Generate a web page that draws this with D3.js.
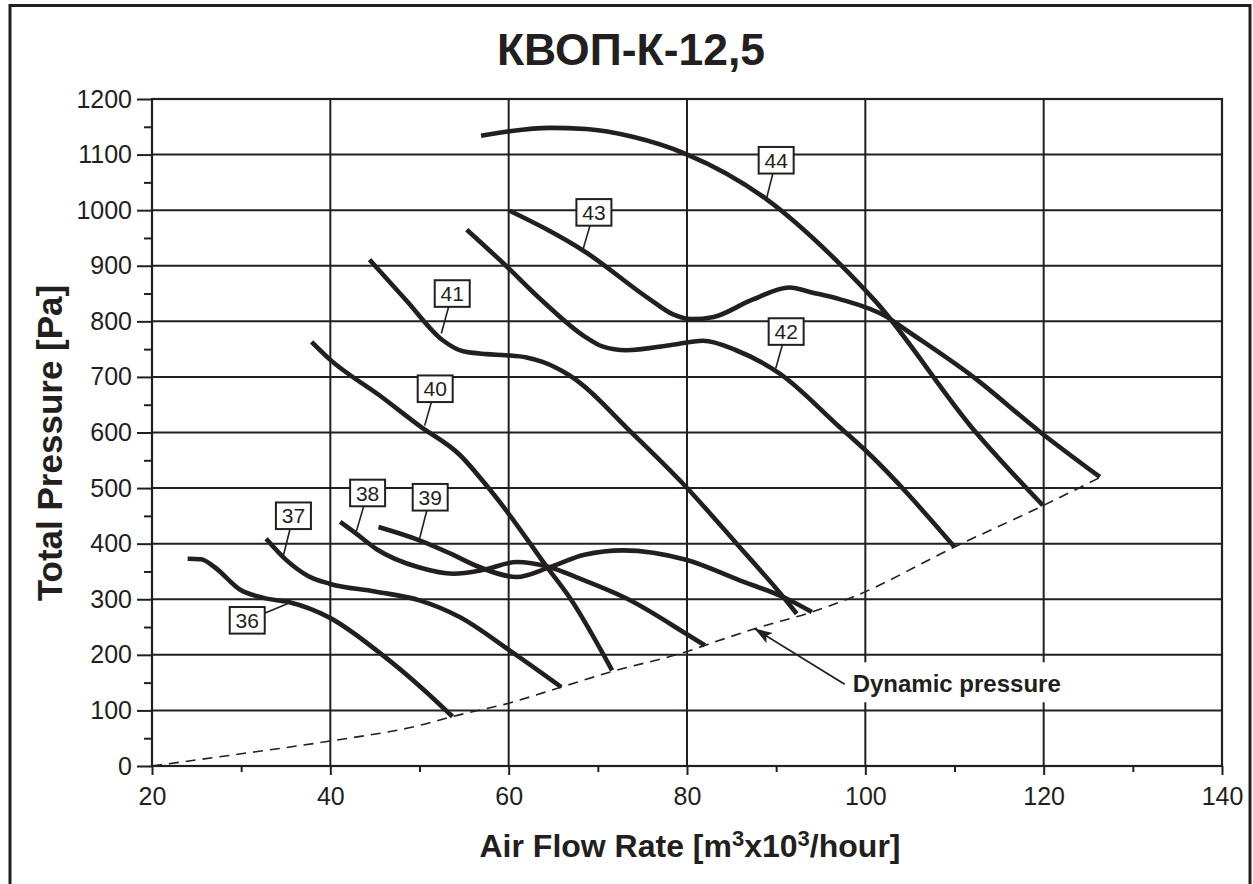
<!DOCTYPE html>
<html>
<head>
<meta charset="utf-8">
<script src="https://cdn.jsdelivr.net/npm/d3@7"></script>
<style>
  html, body { margin: 0; padding: 0; background: #ffffff; }
  svg { display: block; }
  text { font-family: "Liberation Sans", Arial, Helvetica, sans-serif; fill: #231f20; }
</style>
</head>
<body>
<script>
// ---------- DATA ----------
const titleText = "КВОП-К-12,5";
const xTickValues = [20, 40, 60, 80, 100, 120, 140];
const xMinorTicks = [30, 50, 70, 90, 110, 130];
const yTickValues = [0, 100, 200, 300, 400, 500, 600, 700, 800, 900, 1000, 1100, 1200];
const yMinorTicks = [50, 150, 250, 350, 450, 550, 650, 750, 850, 950, 1050, 1150];

const curveNames = ["36", "37", "38", "39", "40", "41", "42", "43", "44"];
const fan36 = [[24.0,373],[25.5,372],[27.0,358],[29.8,318],[32.6,302],[35.3,295],[39.9,267],[45.9,199],[50.0,144],[53.7,89]];
const fan37 = [[32.8,409],[35.1,370],[37.5,342],[39.9,328],[45.0,314],[50.0,298],[54.5,268],[60.1,208],[65.9,142]];
const fan38 = [[41.1,439],[42.9,418],[45.2,390],[50.0,357],[53.8,346],[57.2,353],[60.9,367],[64.5,358],[68.0,337],[73.4,300],[79.9,238],[82.0,217]];
const fan39 = [[45.4,430],[50.0,406],[53.5,382],[56.7,358],[60.9,340],[64.5,357],[68.5,380],[72.8,388],[79.9,371],[85.9,334],[90.8,304],[94.0,277]];
const fan40 = [[37.9,763],[39.9,732],[45.5,667],[50.0,612],[54.5,560],[57.5,505],[59.9,456],[64.2,360],[66.8,304],[71.6,172]];
const fan41 = [[44.4,911],[48.5,838],[52.6,766],[54.9,746],[57.5,741],[59.7,739],[62.0,735],[63.8,727],[66.8,703],[73.9,598],[79.9,502],[85.4,403],[90.8,304],[92.3,274]];
const fan42 = [[55.3,965],[59.7,900],[63.7,838],[68.5,773],[70.5,755],[73.2,748],[78.1,757],[81.8,765],[85.5,748],[90.4,706],[97.1,610],[100.0,568],[110.0,394]];
const fan43 = [[60.1,999],[64.2,966],[68.3,928],[75.8,840],[78.5,812],[80.5,804],[83.0,808],[87.2,838],[91.5,861],[94.0,852],[97.1,840],[102.4,808],[104.6,784],[112.1,700],[119.6,601],[126.3,520]];
const fan44 = [[56.9,1134],[60.1,1142],[64.6,1148],[68.7,1146],[73.9,1132],[79.9,1101],[88.9,1020],[97.1,904],[101.2,835],[112.1,606],[119.9,469]];
const fanSeries = [fan36, fan37, fan38, fan39, fan40, fan41, fan42, fan43, fan44];

// label boxes (data coordinates): box centre and pointer target on the curve
const labelBoxX = [30.68, 35.86, 44.18, 51.20, 51.76, 53.67, 91.12, 69.56, 90.00];
const labelBoxY = [262.1, 450.2, 491.2, 483.5, 678.7, 850.0, 781.6, 996.0, 1089.8];
const labelTipX = [35.25, 34.69, 42.84, 50.02, 50.58, 52.45, 89.95, 68.30, 88.90];
const labelTipY = [292.2, 376.0, 418.1, 409.7, 612.4, 778.0, 715.0, 927.6, 1019.6];

const dynamicPressure = [[20,0],[30,22],[40,45],[50,73],[53.7,89],[60,113],[65.9,142],[71.6,170],[80,206],[82,217],[87.6,247],[94,277],[98.6,304],[110,394],[120,469],[126.3,519]];
const dynamicLabel = "Dynamic pressure";
const dynamicLabelPos = [98.58, 132.6];
const dynamicArrowFrom = [97.68, 146.9];
const dynamicArrowTo = [87.56, 247.2];

const xTitle = ["Air Flow Rate [m", "3", "x10", "3", "/hour]"];
const yTitle = "Total Pressure [Pa]";

// ---------- DRAW ----------
const W = 1253, H = 884;
const ink = "#231f20";
const svg = d3.select("body").append("svg").attr("width", W).attr("height", H);

const x = d3.scaleLinear().domain([20, 140]).range([152, 1222]);
const y = d3.scaleLinear().domain([0, 1200]).range([766, 99]);

// outer frame
svg.append("rect").attr("x", 10).attr("y", 5.5).attr("width", 1240).attr("height", 940)
  .attr("fill", "none").attr("stroke", ink).attr("stroke-width", 3);

// title
svg.append("text").attr("x", 631).attr("y", 65).attr("text-anchor", "middle")
  .attr("font-size", 44.5).attr("font-weight", "bold").text(titleText);

// gridlines
const grid = svg.append("g").attr("stroke", ink).attr("stroke-width", 2);
grid.selectAll("line.v").data(xTickValues).join("line").attr("class", "v")
  .attr("x1", d => x(d)).attr("x2", d => x(d)).attr("y1", y(0)).attr("y2", y(1200));
grid.selectAll("line.h").data(yTickValues).join("line").attr("class", "h")
  .attr("x1", x(20)).attr("x2", x(140)).attr("y1", d => y(d)).attr("y2", d => y(d));

// axes
function styleAxis(g) {
  g.select(".domain").remove();
  g.selectAll(".tick line").attr("stroke", ink).attr("stroke-width", 2);
  g.selectAll(".tick text").attr("fill", ink).attr("font-size", 25)
    .attr("font-family", "'Liberation Sans', Arial, sans-serif");
}
svg.append("g").attr("transform", `translate(0,${y(0)})`)
  .call(d3.axisBottom(x).tickValues(xTickValues).tickSize(9).tickPadding(12).tickFormat(d3.format("d")))
  .call(styleAxis);
svg.append("g").attr("transform", `translate(0,${y(0)})`)
  .call(d3.axisBottom(x).tickValues(xMinorTicks).tickSize(6).tickFormat(""))
  .call(styleAxis);
svg.append("g").attr("transform", `translate(${x(20)},0)`)
  .call(d3.axisLeft(y).tickValues(yTickValues).tickSize(15).tickPadding(5).tickFormat(d3.format("d")))
  .call(styleAxis);
svg.append("g").attr("transform", `translate(${x(20)},0)`)
  .call(d3.axisLeft(y).tickValues(yMinorTicks).tickSize(8).tickFormat(""))
  .call(styleAxis);

// plot border
svg.append("rect").attr("x", x(20)).attr("y", y(1200))
  .attr("width", x(140) - x(20)).attr("height", y(0) - y(1200))
  .attr("fill", "none").attr("stroke", ink).attr("stroke-width", 2.2);

// axis titles
const xt = svg.append("text").attr("x", 690).attr("y", 857).attr("text-anchor", "middle")
  .attr("font-size", 32).attr("font-weight", "bold");
xTitle.forEach((s, i) => {
  const sup = i % 2 === 1;
  xt.append("tspan").attr("font-size", sup ? 22 : 32)
    .attr("dy", sup ? -11 : (i === 0 ? 0 : 11)).text(s);
});
svg.append("text").attr("transform", "translate(62,443) rotate(-90)")
  .attr("text-anchor", "middle").attr("font-size", 35).attr("font-weight", "bold").text(yTitle);

// dynamic pressure label background
const dynG = svg.append("g");
const dynText = dynG.append("text").attr("x", x(dynamicLabelPos[0])).attr("y", y(dynamicLabelPos[1]))
  .attr("font-size", 24).attr("font-weight", "bold").text(dynamicLabel);
const bb = dynText.node().getBBox();
dynG.insert("rect", "text").attr("x", bb.x - 4).attr("y", bb.y - 8)
  .attr("width", bb.width + 8).attr("height", bb.height + 13).attr("fill", "#fff");

// dynamic pressure curve
svg.append("path").datum(dynamicPressure)
  .attr("d", d3.line().x(d => x(d[0])).y(d => y(d[1])).curve(d3.curveMonotoneX))
  .attr("fill", "none").attr("stroke", ink).attr("stroke-width", 1.6).attr("stroke-dasharray", "10,7");

// arrow
const defs = svg.append("defs");
defs.append("marker").attr("id", "arrowHead").attr("viewBox", "0 0 18 12")
  .attr("refX", 18).attr("refY", 6).attr("markerWidth", 18).attr("markerHeight", 12)
  .attr("markerUnits", "userSpaceOnUse").attr("orient", "auto")
  .append("path").attr("d", "M0,0 L18,6 L0,12 L4,6 Z").attr("fill", ink);
svg.append("line")
  .attr("x1", x(dynamicArrowFrom[0])).attr("y1", y(dynamicArrowFrom[1]))
  .attr("x2", x(dynamicArrowTo[0])).attr("y2", y(dynamicArrowTo[1]))
  .attr("stroke", ink).attr("stroke-width", 1.8).attr("marker-end", "url(#arrowHead)");

// fan curves
const lineGen = d3.line().x(d => x(d[0])).y(d => y(d[1])).curve(d3.curveMonotoneX);
svg.append("g").selectAll("path").data(fanSeries).join("path")
  .attr("d", lineGen).attr("fill", "none").attr("stroke", ink)
  .attr("stroke-width", 4.6).attr("stroke-linejoin", "round").attr("stroke-linecap", "butt");

// curve labels
const lab = svg.append("g").selectAll("g").data(curveNames).join("g");
lab.append("line")
  .attr("x1", (d, i) => x(labelBoxX[i])).attr("y1", (d, i) => y(labelBoxY[i]))
  .attr("x2", (d, i) => x(labelTipX[i])).attr("y2", (d, i) => y(labelTipY[i]))
  .attr("stroke", ink).attr("stroke-width", 1.6);
lab.append("rect")
  .attr("x", (d, i) => x(labelBoxX[i]) - 17.5).attr("y", (d, i) => y(labelBoxY[i]) - 13.3)
  .attr("width", 35).attr("height", 26.6)
  .attr("fill", "#fff").attr("stroke", ink).attr("stroke-width", 2);
lab.append("text")
  .attr("x", (d, i) => x(labelBoxX[i])).attr("y", (d, i) => y(labelBoxY[i]))
  .attr("dy", "0.36em").attr("text-anchor", "middle").attr("font-size", 21)
  .text(d => d);
</script>
</body>
</html>
